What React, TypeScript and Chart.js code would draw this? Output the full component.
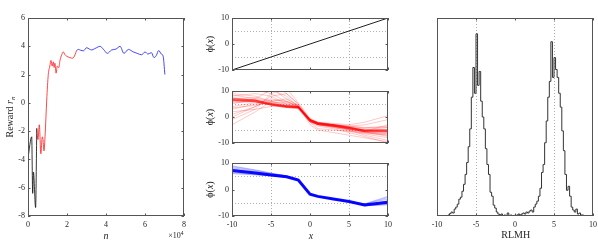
import React, { useEffect, useRef } from 'react';
import { Chart, registerables } from 'chart.js';

Chart.register(...registerables);

const FONT = "'Liberation Serif', 'Times New Roman', serif";
const TEXT_COLOR = '#262626';
const BOX_COLOR = '#555555';
const GRID_COLOR = '#9a9a9a';

// ---------- Panel 1: reward r_n vs n ----------
const N_BLACK = [0, 1900, 2400, 2800, 3900, 4500];
const R_BLACK = [-3.9, -2.4, -6.4, -4.9, -7.4, -1.8];
const N_RED = [4500, 5100, 5800, 6600, 7300, 7700, 8200, 8800, 9600, 10400, 11200, 11800, 12400, 13000, 13400, 13800, 14400, 15000, 15800, 16400, 17300, 18100, 19000, 19800, 21500, 22900, 24100, 24900];
const R_RED = [-1.8, -2.6, -1.55, -3.6, -2.4, -2.6, -3.4, -2.2, 0.2, 2.0, 2.6, 3.0, 2.6, 2.9, 2.5, 2.8, 2.1, 2.6, 2.5, 3.0, 3.4, 3.6, 3.4, 3.3, 3.2, 3.15, 3.4, 3.7];
const N_BLUE = [24900, 25800, 27000, 28400, 30100, 31500, 32700, 34000, 35200, 36900, 38600, 40700, 42900, 45100, 47200, 49200, 51500, 54000, 56000, 58300, 60000, 61500, 63300, 64600, 65800, 67000, 68400, 69300, 70200];
const R_BLUE = [3.7, 3.78, 3.72, 3.68, 3.9, 3.8, 3.74, 3.82, 3.9, 4.0, 3.8, 3.5, 3.74, 3.8, 4.0, 3.5, 3.78, 3.6, 3.5, 3.4, 3.6, 3.45, 3.55, 3.2, 3.35, 3.7, 3.45, 3.3, 2.0];

// ---------- Panels 2-4: phi(x) ----------
const IDENT_X = [-10, 10];
const IDENT_Y = [-10, 10];
const X_GRID = [-10, -7, -5, -3, -1.5, 0, 1, 3, 5, 7, 10];
const RED_MEAN = [6.7, 6.2, 4.9, 4.0, 3.7, -1.3, -2.6, -3.3, -4.2, -5.4, -5.3];
const RED_RUNS: number[][] = [
  [10, 12, 13, 9, 5, -1, -2.5, -3, -4, -5, -5.5],
  [-3, 2, 6, 7, 4.5, -1.5, -2.5, -3.5, -4.5, -5, -6],
  [3, 5, 7, 6, 4, -1, -2, -2.5, -3, -2, 0.5],
  [8, 9, 8, 5, 3.8, -1.2, -3, -4, -5, -7, -9],
  [0, 4, 8, 9, 5, -1, -2.4, -3.2, -4, -5.5, -6.5],
  [9, 8, 6, 4.5, 3.5, -2, -3.5, -4.5, -6, -7.5, -10],
  [5, 7, 10.5, 8, 4.2, -1, -2.2, -3, -3.5, -4, -4],
  [2, 3, 4, 4.5, 4, -2, -4.5, -5, -5.5, -6, -6.5],
  [7, 7.5, 6, 5, 4, -1.5, -2.8, -3.5, -4.8, -5.5, -3],
  [6, 6.5, 5, 4, 3.6, -1.3, -2.5, -3.2, -4, -5, -5.5],
  [-1, 3, 9, 11, 5.5, -0.5, -2, -3, -3.8, -4.5, -5],
  [10, 10.5, 9, 6, 4, -1.8, -3, -4, -5.5, -6.5, -8],
  [4, 5.5, 5, 4.5, 3.8, -1, -2.2, -2.8, -3.5, -3, -1],
  [7.5, 6.5, 4.5, 3.8, 3.5, -1.5, -2.6, -3.4, -4.5, -5.8, -7],
  [1, 4, 6.5, 6, 4.5, -3, -5, -6, -7, -8, -9.5],
  [6.5, 6, 4.8, 4, 3.7, -1.2, -2.5, -3.3, -4.2, -5.3, -5.2],
  [7, 6.4, 5, 4.1, 3.8, -1.4, -2.7, -3.4, -4.3, -5.2, -4.6],
  [6.2, 6.0, 4.7, 3.9, 3.6, -1.2, -2.5, -3.2, -4.1, -5.6, -6.0],
  [8.5, 7, 5.5, 4.3, 3.9, -1.0, -2.3, -3.1, -4.0, -5.0, -4.0],
  [5.5, 5.8, 4.6, 3.9, 3.6, -1.6, -2.8, -3.6, -4.6, -5.7, -7.5],
  [9.5, 11, 11, 7, 4.3, -0.8, -2.1, -2.9, -3.6, -4.2, -3.5],
  [3.5, 4.5, 5.5, 5.5, 4.2, -1.6, -2.9, -3.8, -5.0, -6.2, -7.0],
];
const BLUE_MEAN = [7.2, 6.2, 5.5, 4.8, 3.6, -1.8, -2.6, -3.6, -4.5, -5.8, -4.8];
const BLUE_RUNS: number[][] = [
  [8.6, 7.2, 6.1, 5.1, 3.7, -1.8, -2.6, -3.6, -4.6, -5.6, -3.0],
  [6.0, 5.5, 5.2, 4.6, 3.5, -1.8, -2.6, -3.6, -4.5, -6.0, -5.8],
  [7.8, 6.6, 5.7, 4.9, 3.6, -1.9, -2.7, -3.7, -4.6, -5.9, -4.2],
  [6.6, 5.9, 5.3, 4.7, 3.5, -1.7, -2.5, -3.5, -4.4, -5.7, -5.3],
  [8.2, 6.9, 5.9, 5.0, 3.7, -1.8, -2.6, -3.6, -4.5, -5.5, -3.6],
  [7.0, 6.1, 5.4, 4.8, 3.6, -1.8, -2.6, -3.6, -4.5, -6.1, -5.0],
  [7.5, 6.4, 5.6, 4.85, 3.6, -1.8, -2.6, -3.6, -4.55, -5.8, -4.5],
  [6.3, 5.7, 5.2, 4.7, 3.5, -1.8, -2.6, -3.6, -4.5, -6.2, -5.6],
  [8.9, 7.4, 6.2, 5.2, 3.8, -1.7, -2.6, -3.6, -4.5, -5.4, -2.6],
  [7.3, 6.3, 5.5, 4.8, 3.6, -1.8, -2.6, -3.6, -4.5, -6.0, -4.9],
];

// ---------- Panel 5: RLMH histogram ----------
const HIST_START = -9;
const HIST_BIN = 0.2;
const HIST_COUNTS = [
  0, 0, 0.005, 0.012, 0.02, 0.015, 0.035, 0.045, 0.06, 0.085,
  0.095, 0.125, 0.16, 0.21, 0.27, 0.35, 0.44, 0.6, 0.75, 0.62,
  0.92, 0.66, 0.73, 0.58, 0.5, 0.44, 0.34, 0.26, 0.21, 0.12,
  0.1, 0.055, 0.04, 0.02, 0.01, 0.005, 0.01, 0, 0.005, 0,
  0.015, 0, 0.005, 0, 0.003, 0, 0.005, 0.01, 0.005, 0.01,
  0.015, 0.01, 0.02, 0.015, 0.025, 0.03, 0.02, 0.045, 0.06, 0.075,
  0.1, 0.14, 0.22, 0.26, 0.37, 0.48, 0.6, 0.68, 0.88, 0.7,
  0.8, 0.74, 0.7, 0.62, 0.55, 0.43, 0.33, 0.21, 0.13, 0.15,
  0.1, 0.045, 0.03, 0.02, 0.035, 0.01, 0.015, 0.005, 0.005, 0,
];

const REF_LINES = [-5, 5];

type Part = { t: string; it?: boolean; sub?: boolean; sup?: boolean };
type Rich = { parts: Part[]; x: number; y: number; rot?: boolean; size?: number };

function drawRich(ctx: CanvasRenderingContext2D, r: Rich) {
  const size = r.size || 10;
  const fontOf = (p: Part) => `${p.it ? 'italic ' : ''}${p.sub || p.sup ? size * 0.7 : size}px ${FONT}`;
  ctx.save();
  ctx.translate(r.x, r.y);
  if (r.rot) ctx.rotate(-Math.PI / 2);
  let total = 0;
  const widths = r.parts.map((p) => {
    ctx.font = fontOf(p);
    const w = ctx.measureText(p.t).width;
    total += w;
    return w;
  });
  let x = -total / 2;
  ctx.fillStyle = TEXT_COLOR;
  ctx.textBaseline = 'middle';
  ctx.textAlign = 'left';
  r.parts.forEach((p, i) => {
    ctx.font = fontOf(p);
    const dy = p.sub ? size * 0.3 : p.sup ? -size * 0.35 : 0;
    ctx.fillText(p.t, x, dy);
    x += widths[i];
  });
  ctx.restore();
}

function makeAxesPlugin(cfg: { xLines?: number[]; yLines?: number[]; xTicks?: boolean; yTicks?: boolean; titles: Rich[] }) {
  const TL = 2.5;
  return {
    id: 'matlabAxes',
    beforeDatasetsDraw(chart: any) {
      const { ctx, chartArea: a } = chart;
      const sx = chart.scales.x;
      const sy = chart.scales.y;
      ctx.save();
      ctx.strokeStyle = GRID_COLOR;
      ctx.lineWidth = 0.8;
      ctx.setLineDash([1, 2]);
      for (const v of cfg.xLines || []) {
        const p = Math.round(sx.getPixelForValue(v)) + 0.5;
        ctx.beginPath();
        ctx.moveTo(p, a.top);
        ctx.lineTo(p, a.bottom);
        ctx.stroke();
      }
      for (const v of cfg.yLines || []) {
        const p = Math.round(sy.getPixelForValue(v)) + 0.5;
        ctx.beginPath();
        ctx.moveTo(a.left, p);
        ctx.lineTo(a.right, p);
        ctx.stroke();
      }
      ctx.restore();
    },
    afterDraw(chart: any) {
      const { ctx, chartArea: a } = chart;
      const sx = chart.scales.x;
      const sy = chart.scales.y;
      ctx.save();
      ctx.strokeStyle = BOX_COLOR;
      ctx.lineWidth = 1;
      ctx.strokeRect(a.left + 0.5, a.top + 0.5, a.right - a.left - 1, a.bottom - a.top - 1);
      ctx.beginPath();
      if (cfg.xTicks !== false) {
        for (const t of sx.ticks) {
          const p = Math.round(sx.getPixelForValue(t.value)) + 0.5;
          ctx.moveTo(p, a.bottom);
          ctx.lineTo(p, a.bottom - TL);
          ctx.moveTo(p, a.top);
          ctx.lineTo(p, a.top + TL);
        }
      }
      if (cfg.yTicks !== false) {
        for (const t of sy.ticks) {
          const p = Math.round(sy.getPixelForValue(t.value)) + 0.5;
          ctx.moveTo(a.left, p);
          ctx.lineTo(a.left + TL, p);
          ctx.moveTo(a.right, p);
          ctx.lineTo(a.right - TL, p);
        }
      }
      ctx.stroke();
      ctx.restore();
      for (const r of cfg.titles) drawRich(ctx, r);
    },
  };
}

type AxCfg = {
  xMin: number; xMax: number; xStep: number;
  yMin: number; yMax: number; yStep: number;
  yW: number; xH: number; padTop: number; padRight: number;
  showX: boolean; showY: boolean; xCb?: (v: number) => string;
};

function baseOptions(c: AxCfg) {
  const tickFont = { family: FONT, size: 8 };
  return {
    responsive: false,
    animation: false,
    devicePixelRatio: 1,
    events: [],
    layout: { padding: { left: 0, top: c.padTop, right: c.padRight, bottom: 0 } },
    plugins: { legend: { display: false }, tooltip: { enabled: false } },
    elements: { point: { radius: 0 } },
    scales: {
      x: {
        type: 'linear',
        min: c.xMin,
        max: c.xMax,
        grid: { display: false, drawTicks: false },
        border: { display: false },
        ticks: {
          display: c.showX,
          stepSize: c.xStep,
          padding: 4,
          color: TEXT_COLOR,
          font: tickFont,
          maxRotation: 0,
          autoSkip: false,
          callback: c.xCb || ((v: number) => String(v)),
        },
        afterFit: (s: any) => {
          s.height = c.xH;
          s.paddingLeft = 0;
          s.paddingRight = 0;
        },
      },
      y: {
        type: 'linear',
        min: c.yMin,
        max: c.yMax,
        grid: { display: false, drawTicks: false },
        border: { display: false },
        ticks: {
          display: c.showY,
          stepSize: c.yStep,
          padding: 3,
          color: TEXT_COLOR,
          font: tickFont,
          autoSkip: false,
          callback: (v: number) => String(v),
        },
        afterFit: (s: any) => {
          s.width = c.yW;
          s.paddingTop = 0;
          s.paddingBottom = 0;
        },
      },
    },
  };
}

const pts = (xs: number[], ys: number[]) => xs.map((x, i) => ({ x, y: ys[i] }));

function rewardConfig(): any {
  const line = (xs: number[], ys: number[], color: string) => ({
    data: pts(xs, ys),
    borderColor: color,
    borderWidth: 1,
    pointRadius: 0,
    cubicInterpolationMode: 'monotone',
    clip: 0,
  });
  return {
    type: 'line',
    data: {
      datasets: [
        line(N_BLACK, R_BLACK, 'rgba(20,20,20,0.85)'),
        line(N_RED, R_RED, 'rgba(255,40,40,0.85)'),
        line(N_BLUE, R_BLUE, 'rgba(40,40,255,0.85)'),
      ],
    },
    options: baseOptions({
      xMin: 0, xMax: 80000, xStep: 20000, yMin: -8, yMax: 6, yStep: 2,
      yW: 28, xH: 27, padTop: 18, padRight: 16, showX: true, showY: true,
      xCb: (v: number) => String(v / 10000),
    }),
    plugins: [
      makeAxesPlugin({
        titles: [
          { parts: [{ t: 'Reward ' }, { t: 'r', it: true }, { t: 'n', it: true, sub: true }], x: 10, y: 117, rot: true },
          { parts: [{ t: 'n', it: true }], x: 106, y: 236 },
          { parts: [{ t: '×10', }, { t: '4', sup: true }], x: 176, y: 236, size: 8 },
        ],
      }),
    ],
  };
}

function phiConfig(kind: 'ident' | 'red' | 'blue', geo: { padTop: number; xH: number; titleY: number; showX: boolean }): any {
  let datasets: any[] = [];
  if (kind === 'ident') {
    datasets = [{ data: pts(IDENT_X, IDENT_Y), borderColor: '#222222', borderWidth: 1, clip: 0 }];
  } else if (kind === 'red') {
    datasets = RED_RUNS.map((r) => ({ data: pts(X_GRID, r), borderColor: 'rgba(255,0,0,0.22)', borderWidth: 1, clip: 0 }));
    datasets.push({ data: pts(X_GRID, RED_MEAN), borderColor: 'rgba(255,50,50,0.75)', borderWidth: 2.6, clip: 0 });
  } else {
    datasets = BLUE_RUNS.map((r) => ({ data: pts(X_GRID, r), borderColor: 'rgba(0,0,255,0.25)', borderWidth: 1, clip: 0 }));
    datasets.push({ data: pts(X_GRID, BLUE_MEAN), borderColor: 'rgba(0,0,255,0.95)', borderWidth: 3, clip: 0 });
  }
  const titles: Rich[] = [
    { parts: [{ t: 'ϕ(' }, { t: 'x', it: true }, { t: ')' }], x: 10, y: geo.titleY, rot: true },
  ];
  if (geo.showX) titles.push({ parts: [{ t: 'x', it: true }], x: 111, y: 84 });
  return {
    type: 'line',
    data: { datasets: datasets.map((d) => ({ ...d, pointRadius: 0, tension: 0 })) },
    options: baseOptions({
      xMin: -10, xMax: 10, xStep: 5, yMin: -10, yMax: 10, yStep: 10,
      yW: 32, xH: geo.xH, padTop: geo.padTop, padRight: 12, showX: geo.showX, showY: true,
    }),
    plugins: [makeAxesPlugin({ xLines: REF_LINES, yLines: REF_LINES, titles })],
  };
}

function histConfig(): any {
  const data = HIST_COUNTS.map((v, i) => ({ x: HIST_START + i * HIST_BIN, y: v }));
  data.push({ x: HIST_START + HIST_COUNTS.length * HIST_BIN, y: HIST_COUNTS[HIST_COUNTS.length - 1] });
  return {
    type: 'line',
    data: {
      datasets: [
        { data, borderColor: '#333333', borderWidth: 1, stepped: true, pointRadius: 0, clip: 0 },
      ],
    },
    options: baseOptions({
      xMin: -10, xMax: 10, xStep: 5, yMin: 0, yMax: 1, yStep: 0.5,
      yW: 37, xH: 27, padTop: 18, padRight: 5, showX: true, showY: false,
    }),
    plugins: [
      makeAxesPlugin({
        xLines: REF_LINES,
        yTicks: false,
        titles: [{ parts: [{ t: 'RLMH' }], x: 115.7, y: 235 }],
      }),
    ],
  };
}

function ChartCanvas(props: { left: number; top: number; width: number; height: number; make: () => any }) {
  const ref = useRef<HTMLCanvasElement>(null);
  useEffect(() => {
    const chart = new Chart(ref.current as HTMLCanvasElement, props.make());
    return () => chart.destroy();
  }, []);
  return (
    <canvas
      ref={ref}
      width={props.width}
      height={props.height}
      style={{ position: 'absolute', left: props.left, top: props.top, width: props.width, height: props.height }}
    />
  );
}

export default function App() {
  return (
    <div style={{ position: 'absolute', left: 0, top: 0, width: 598, height: 243, background: '#ffffff', overflow: 'hidden' }}>
      <ChartCanvas left={0} top={0} width={200} height={243} make={rewardConfig} />
      <ChartCanvas left={200} top={0} width={200} height={78} make={() => phiConfig('ident', { padTop: 18, xH: 8, titleY: 44, showX: false })} />
      <ChartCanvas left={200} top={78} width={200} height={74} make={() => phiConfig('red', { padTop: 13, xH: 9, titleY: 39, showX: false })} />
      <ChartCanvas left={200} top={152} width={200} height={91} make={() => phiConfig('blue', { padTop: 11, xH: 27, titleY: 37.5, showX: true })} />
      <ChartCanvas left={400} top={0} width={198} height={243} make={histConfig} />
    </div>
  );
}
